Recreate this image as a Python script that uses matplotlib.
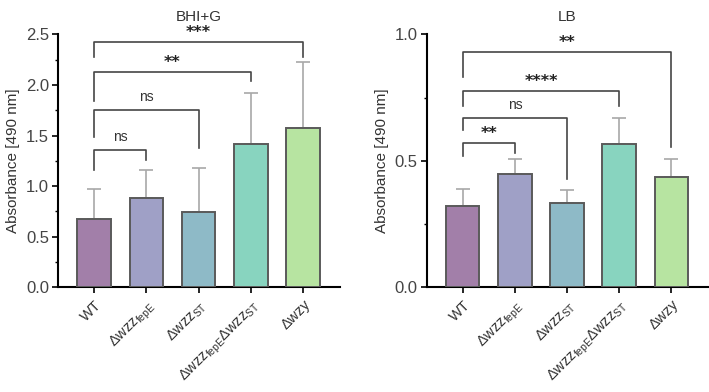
import matplotlib
matplotlib.use("Agg")
import matplotlib.pyplot as plt
from matplotlib.ticker import MultipleLocator

plt.rcParams['font.family'] = ['Liberation Sans', 'DejaVu Sans']
plt.rcParams['mathtext.fontset'] = 'custom'
plt.rcParams['mathtext.rm'] = 'Liberation Sans'

categories = ['WT', 'Δwzz$_{\\mathregular{fepE}}$', 'Δwzz$_{\\mathregular{ST}}$',
              'Δwzz$_{\\mathregular{fepE}}$Δwzz$_{\\mathregular{ST}}$', 'Δwzy']
colors = ['#a27fa9', '#9fa0c6', '#8ebac7', '#88d4bf', '#b7e4a1']

bhi_means = [0.68, 0.88, 0.74, 1.42, 1.58]
bhi_sd = [0.29, 0.28, 0.44, 0.50, 0.65]
lb_means = [0.321, 0.449, 0.334, 0.568, 0.436]
lb_sd = [0.068, 0.057, 0.049, 0.101, 0.072]

# comparisons vs WT: (target index, label, bracket y, left leg bottom, right leg bottom)
bhi_comp = [(1, 'ns', 1.355, 1.16, 1.26),
            (2, 'ns', 1.755, 1.49, 1.375),
            (3, '**', 2.127, 1.845, 2.04),
            (4, '***', 2.425, 2.28, 2.28)]
lb_comp = [(1, '**', 0.569, 0.518, 0.53),
           (2, 'ns', 0.670, 0.624, 0.43),
           (3, '****', 0.776, 0.717, 0.717),
           (4, '**', 0.929, 0.832, 0.556)]

fig = plt.figure(figsize=(7.09, 3.92), dpi=100)
ax1 = fig.add_axes([0.0818, 0.267, 0.398, 0.645])
ax2 = fig.add_axes([0.602, 0.267, 0.397, 0.645])


def draw(ax, means, sd, comps, title, ymax, unit):
    x = list(range(len(categories)))
    ax.bar(x, means, width=0.64, color=colors, edgecolor='#5a5a5a', linewidth=1.4, zorder=3)
    ax.errorbar(x, means, yerr=[[0] * len(sd), sd], fmt='none', ecolor='#a8a8a8',
                elinewidth=1.2, capsize=5, capthick=1.2, zorder=2)
    for (j, lab, yb, yl, yr) in comps:
        ax.plot([0, 0, j, j], [yl, yb, yb, yr], color='#454545', lw=1.2,
                clip_on=False, zorder=4)
        if lab == 'ns':
            ax.annotate(lab, (j / 2, yb), xytext=(0, 9.5), textcoords='offset points',
                        ha='center', va='center', fontsize=10, color='#333333',
                        annotation_clip=False)
        else:
            ax.annotate(lab, (j / 2, yb), xytext=(0, 7), textcoords='offset points',
                        ha='center', va='center', fontsize=11.5, color='#222222',
                        fontweight='bold', family='DejaVu Sans', annotation_clip=False)
    ax.set_xlim(-0.69, 4.71)
    ax.set_ylim(0, ymax)
    ax.yaxis.set_major_locator(MultipleLocator(0.5))
    ax.yaxis.set_minor_locator(MultipleLocator(unit))
    ax.set_xticks(x)
    ax.set_xticklabels(categories, rotation=45, ha='right', rotation_mode='anchor',
                       fontsize=10.5, color='#333333')
    ax.tick_params(axis='y', labelsize=12, labelcolor='#444444', length=4.5, width=1.2, pad=2)
    ax.tick_params(axis='y', which='minor', length=2.5, width=1.0)
    ax.tick_params(axis='x', length=4.5, width=1.2, pad=3)
    for s in ['top', 'right']:
        ax.spines[s].set_visible(False)
    for s in ['left', 'bottom']:
        ax.spines[s].set_linewidth(1.5)
    ax.set_ylabel('Absorbance [490 nm]', fontsize=11, color='#333333', labelpad=4)
    ax.set_title(title, fontsize=11, color='#333333', pad=10)


draw(ax1, bhi_means, bhi_sd, bhi_comp, 'BHI+G', 2.5, 0.25)
draw(ax2, lb_means, lb_sd, lb_comp, 'LB', 1.0, 0.25)

fig.savefig('out.png', dpi=100)
